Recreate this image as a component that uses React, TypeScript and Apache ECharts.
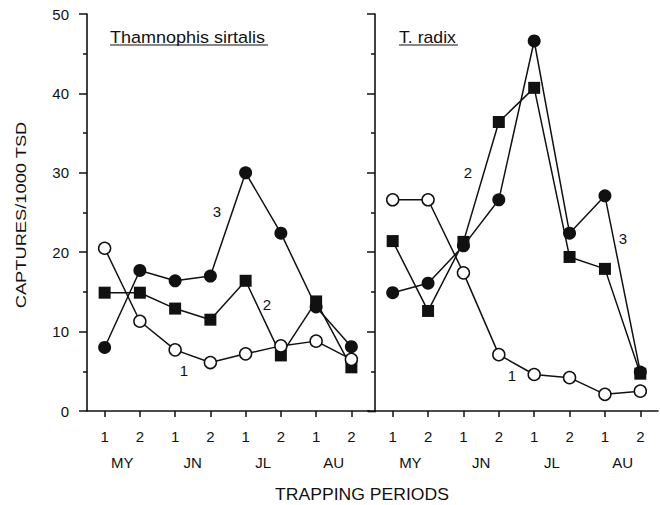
import React, { useEffect, useRef } from 'react';
import * as echarts from 'echarts';

const categories = ['1', '2', '1', '2', '1', '2', '1', '2'];
const months = ['MY', 'JN', 'JL', 'AU'];

// Thamnophis sirtalis
const sirtalis1 = [20.5, 11.3, 7.7, 6.1, 7.2, 8.2, 8.8, 6.5];
const sirtalis2 = [14.9, 14.9, 12.9, 11.5, 16.4, 7.0, 13.8, 5.5];
const sirtalis3 = [8.0, 17.7, 16.4, 17.0, 30.0, 22.4, 13.1, 8.1];

// T. radix
const radix1 = [26.6, 26.6, 17.4, 7.1, 4.6, 4.2, 2.1, 2.5];
const radix2 = [21.4, 12.6, 21.3, 36.4, 40.7, 19.4, 17.9, 4.7];
const radix3 = [14.9, 16.1, 20.8, 26.6, 46.6, 22.4, 27.1, 4.9];

const FONT = '"Liberation Sans", Arial, Helvetica, sans-serif';
const BLACK = '#111';

type Kind = 'open' | 'square' | 'filled';

function mkSeries(name: string, data: number[], kind: Kind, grid: number) {
  const symbol = kind === 'square' ? 'rect' : 'circle';
  const z = kind === 'filled' ? 2 : kind === 'square' ? 3 : 4;
  return {
    name,
    type: 'line',
    xAxisIndex: grid * 2,
    yAxisIndex: grid,
    data,
    symbol,
    symbolSize: kind === 'open' ? 12 : kind === 'square' ? 12 : 13,
    showAllSymbol: true,
    z,
    lineStyle: { color: BLACK, width: 1.5 },
    itemStyle: {
      color: kind === 'open' ? '#fff' : BLACK,
      borderColor: BLACK,
      borderWidth: kind === 'open' ? 1.5 : 0,
    },
    emphasis: { disabled: true },
  };
}

function yAxis(grid: number, labels: boolean) {
  return {
    type: 'value',
    gridIndex: grid,
    min: 0,
    max: 50,
    interval: 10,
    axisLine: { show: true, lineStyle: { color: BLACK, width: 1.6 } },
    axisTick: { show: true, length: 8, lineStyle: { color: BLACK, width: 1.5 } },
    minorTick: { show: true, splitNumber: 2, length: 4, lineStyle: { color: BLACK, width: 1.5 } },
    splitLine: { show: false },
    minorSplitLine: { show: false },
    axisLabel: { show: labels, fontSize: 15, color: BLACK, fontFamily: FONT, margin: 18 },
  };
}

function xAxes(grid: number) {
  return [
    {
      type: 'category',
      gridIndex: grid,
      data: categories,
      boundaryGap: true,
      position: 'bottom',
      axisLine: { show: true, onZero: false, lineStyle: { color: BLACK, width: 1.6 } },
      axisTick: { show: true, alignWithLabel: true, length: 6, lineStyle: { color: BLACK, width: 1.5 } },
      axisLabel: { fontSize: 15, color: BLACK, fontFamily: FONT, margin: 18 },
      splitLine: { show: false },
    },
    {
      type: 'category',
      gridIndex: grid,
      data: months,
      boundaryGap: true,
      position: 'bottom',
      axisLine: { show: false },
      axisTick: { show: false },
      axisLabel: { fontSize: 15, color: BLACK, fontFamily: FONT, margin: 44 },
      splitLine: { show: false },
    },
  ];
}

function txt(text: string, x: number, y: number, size: number, extra: any = {}) {
  return {
    type: 'text',
    x,
    y,
    silent: true,
    ...extra,
    style: {
      text,
      fontSize: size,
      fontFamily: FONT,
      fill: BLACK,
      textAlign: 'center',
      textVerticalAlign: 'middle',
      ...(extra.style || {}),
    },
  };
}

function hline(x1: number, x2: number, y: number, w = 1.2) {
  return {
    type: 'line',
    silent: true,
    shape: { x1, y1: y, x2, y2: y },
    style: { stroke: BLACK, lineWidth: w },
  };
}

const option = {
  animation: false,
  backgroundColor: '#fff',
  textStyle: { fontFamily: FONT },
  grid: [
    { left: 87, top: 14, width: 282, height: 397 },
    { left: 375, top: 14, width: 283, height: 397 },
  ],
  xAxis: [...xAxes(0), ...xAxes(1)],
  yAxis: [yAxis(0, true), yAxis(1, false)],
  series: [
    mkSeries('sirtalis 3', sirtalis3, 'filled', 0),
    mkSeries('sirtalis 2', sirtalis2, 'square', 0),
    mkSeries('sirtalis 1', sirtalis1, 'open', 0),
    mkSeries('radix 3', radix3, 'filled', 1),
    mkSeries('radix 2', radix2, 'square', 1),
    mkSeries('radix 1', radix1, 'open', 1),
  ],
  graphic: [
    hline(368, 376, 411.5, 1.6),
    // panel titles
    txt('Thamnophis sirtalis', 110, 37.5, 17, { style: { textAlign: 'left' }, scaleX: 1.06 }),
    hline(110, 268, 45),
    txt('T. radix', 399, 37.5, 17, { style: { textAlign: 'left' }, scaleX: 1.04 }),
    hline(399, 458, 45),
    // series annotations
    txt('3', 217, 211, 15),
    txt('2', 267, 304, 15),
    txt('1', 184, 370, 15),
    txt('2', 468, 172, 15),
    txt('3', 623, 238, 15),
    txt('1', 512, 375, 15),
    // axis titles
    txt('CAPTURES/1000 TSD', 21, 215, 15, { rotation: Math.PI / 2, scaleX: 1.22 }),
    txt('TRAPPING PERIODS', 362, 495, 16, { scaleX: 1.1 }),
  ],
};

export default function App() {
  const ref = useRef<HTMLDivElement>(null);
  useEffect(() => {
    const chart = echarts.init(ref.current!, null, { renderer: 'svg' });
    chart.setOption(option as any);
    return () => chart.dispose();
  }, []);
  return (
    <div
      ref={ref}
      style={{ position: 'absolute', left: 0, top: 0, width: 660, height: 505, background: '#fff' }}
    />
  );
}
